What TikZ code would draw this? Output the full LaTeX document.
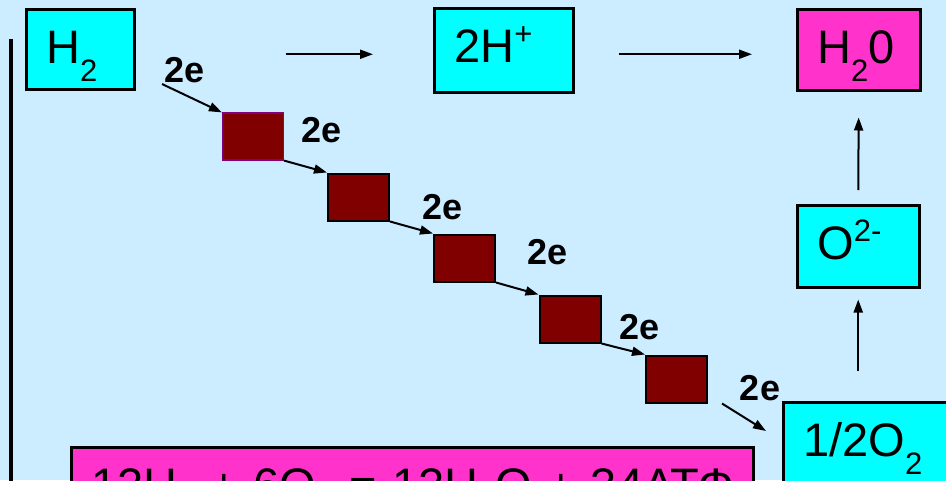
\documentclass[tikz,border=0pt]{standalone}
\usepackage{fontspec}
\setmainfont{Liberation Sans}
\usetikzlibrary{arrows.meta}

\definecolor{slidebg}{HTML}{CCECFF}
\definecolor{ioncyan}{HTML}{00FFFF}
\definecolor{pinkbox}{HTML}{FF33CC}
\definecolor{carrierbrown}{HTML}{800000}
\definecolor{carrieredge}{HTML}{800080}

% sub- and superscripts as the slide sets them (smaller digits, fixed shift)
\newcommand{\lowtxt}[1]{\raisebox{-18pt}{\fontsize{31}{31}\selectfont #1}}
\newcommand{\hightxt}[1]{\raisebox{18pt}{\fontsize{31}{31}\selectfont #1}}

\begin{document}
\begin{tikzpicture}[x=1pt, y=-1pt,
  species/.style={draw=black, line width=2.5pt, anchor=north west,
    inner xsep=20pt, inner ysep=20pt, align=left, text height=34pt,
    font=\fontsize{47}{56}\selectfont},
  carrier/.style={draw=black, line width=2pt, fill=carrierbrown,
    minimum width=61pt, minimum height=47pt, inner sep=0pt},
  ebadge/.style={inner sep=0pt, font=\bfseries\fontsize{36}{43}\selectfont},
  flow/.style={line width=2pt, -{Triangle[length=13pt,width=9pt]}}]

  %% ==== canvas ====
  \fill[slidebg] (0,0) rectangle (946,480);

  \begin{scope}
  \clip (0,0) rectangle (946,480);

  %% ==== left bar ====
  \draw[line width=4pt] (11,39) -- (11,482);

  %% ==== species boxes (north-west corners) ====
  \node[species, fill=ioncyan, text width=68pt, text depth=6pt]  (h2)    at (25,8)   {H\lowtxt{2}};
  \node[species, fill=ioncyan, text width=99pt, text depth=10pt] (hplus) at (433,7)  {2H\hightxt{+}};
  \node[species, fill=pinkbox, text width=83pt, text depth=7pt]  (water) at (796,8)  {H\lowtxt{2}0};
  \node[species, fill=ioncyan, text width=82pt, text depth=8pt]  (oion)  at (796,204) {O\hightxt{2-}};
  \node[species, fill=ioncyan, text width=140pt, text depth=40pt] (oxy)  at (782,401) {1/2O\lowtxt{2}};
  % the equation runs past the slide's lower edge
  \node[species, fill=pinkbox, text width=642pt, text depth=30pt] (balance) at (70,446)
    {\makebox[642pt][l]{12H\lowtxt{2} + 6O\lowtxt{2} = 12H\lowtxt{2}O + 34АТФ}};

  %% ==== electron carriers ====
  \node[carrier, draw=carrieredge, line width=1.2pt] (b1) at (253,136.5) {};
  \node[carrier] (b2) at (358.5,197) {};
  \node[carrier] (b3) at (464.5,258) {};
  \node[carrier] (b4) at (570,319) {};
  \node[carrier] (b5) at (676.5,379) {};

  %% ==== 2e labels ====
  \node[ebadge] (e0) at (185,70)  {2e};
  \node[ebadge] (e1) at (322,130) {2e};
  \node[ebadge] (e2) at (443,207) {2e};
  \node[ebadge] (e3) at (548,252) {2e};
  \node[ebadge] (e4) at (640,327) {2e};
  \node[ebadge] (e5) at (760,388) {2e};

  %% ==== top row ====
  \draw[flow, shorten <=150pt, shorten >=60pt] ([yshift=-5pt]h2.east) -- ([yshift=-4pt]hplus.west);
  \draw[flow, shorten <=44pt, shorten >=44pt] ([yshift=-4pt]hplus.east) -- ([yshift=-4.5pt]water.west);

  %% ==== right column, upwards ====
  \draw[flow, shorten <=14pt, shorten >=26pt] (oion.north) -- (water.south);
  \draw[flow, shorten <=30pt, shorten >=11pt] (oion.south |- oxy.north) -- (oion.south);

  %% ==== electron chain ====
  \coordinate (etail) at (162,84);
  \draw[flow] (etail) -- (b1.north west);
  \draw[flow] (b1.south east) -- (b2.north west);
  \draw[flow] (b2.south east) -- (b3.north west);
  \draw[flow] (b3.south east) -- (b4.north west);
  \draw[flow] (b4.south east) -- (b5.north west);
  \draw[flow] ([xshift=14pt]b5.south east) -- ([xshift=-16pt,yshift=-30pt]oxy.north west);
  \end{scope}

  \pgfresetboundingbox
  \path[use as bounding box] (0,0) rectangle (946,480);
\end{tikzpicture}
\end{document}
